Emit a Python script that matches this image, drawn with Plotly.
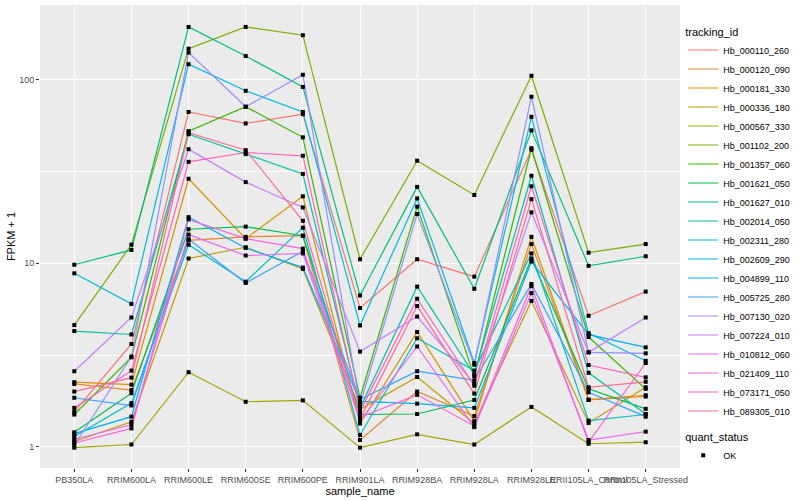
import plotly.graph_objects as go

samples = ["PB350LA", "RRIM600LA", "RRIM600LE", "RRIM600SE", "RRIM600PE", "RRIM901LA",
           "RRIM928BA", "RRIM928LA", "RRIM928LE", "RRII105LA_Control", "RRII105LA_Stressed"]

tracking_ids = ["Hb_000110_260", "Hb_000120_090", "Hb_000181_330", "Hb_000336_180", "Hb_000567_330",
                "Hb_001102_200", "Hb_001357_060", "Hb_001621_050", "Hb_001627_010", "Hb_002014_050",
                "Hb_002311_280", "Hb_002609_290", "Hb_004899_110", "Hb_005725_280", "Hb_007130_020",
                "Hb_007224_010", "Hb_010812_060", "Hb_021409_110", "Hb_073171_050", "Hb_089305_010"]

colors = ["#F8766D", "#EA8331", "#D89000", "#C09B00", "#A3A500", "#7CAE00", "#39B600", "#00BB4E",
          "#00BF7D", "#00C1A3", "#00BFC4", "#00BAE0", "#00B0F6", "#35A2FF", "#9590FF", "#C77CFF",
          "#E76BF3", "#FA62DB", "#FF62BC", "#FF6C91"]

# FPKM + 1 per tracking id, in sample order
fpkm_000110_260 = [1.55, 3.63, 66.5, 57.6, 64.7, 5.7, 10.5, 8.44, 41.4, 5.17, 7.0]
fpkm_000120_090 = [2.2, 2.04, 13.3, 13.9, 14.1, 1.09, 2.0, 1.47, 12.7, 1.8, 1.88]
fpkm_000181_330 = [2.25, 2.18, 28.8, 13.6, 23.1, 1.34, 4.22, 1.38, 13.9, 1.81, 1.91]
fpkm_000336_180 = [1.07, 1.37, 10.6, 12.2, 9.3, 1.6, 2.4, 1.34, 6.23, 1.35, 2.11]
fpkm_000567_330 = [0.99, 1.03, 2.55, 1.76, 1.79, 0.99, 1.17, 1.03, 1.65, 1.04, 1.06]
fpkm_001102_200 = [4.6, 12.6, 147, 193, 174, 10.5, 36.1, 23.5, 104.7, 11.4, 12.7]
fpkm_001357_060 = [1.5, 3.07, 52.3, 71, 48.4, 1.85, 20.3, 2.42, 42.2, 3.96, 2.07]
fpkm_001621_050 = [1.2, 1.96, 15.3, 15.8, 14.1, 1.5, 1.51, 1.8, 10.6, 2.07, 1.61]
fpkm_001627_010 = [9.8, 11.8, 193, 134, 91, 6.67, 26, 7.25, 52.8, 9.67, 10.9]
fpkm_002014_050 = [4.27, 4.09, 50.3, 39.2, 30.6, 1.63, 7.45, 2.47, 29.9, 2.53, 1.51]
fpkm_002311_280 = [1.14, 1.73, 12.6, 7.93, 15.6, 1.16, 3.9, 2.6, 11.3, 1.39, 1.5]
fpkm_002609_290 = [8.8, 6.0, 121, 86.7, 66.5, 4.58, 22.5, 2.86, 62.6, 4.16, 2.94]
fpkm_004899_110 = [1.18, 1.46, 17.8, 12.1, 9.46, 1.77, 1.72, 1.63, 10.2, 4.08, 3.48]
fpkm_005725_280 = [1.85, 1.68, 13.5, 7.8, 11.6, 1.81, 2.58, 2.3, 7.7, 1.98, 1.46]
fpkm_007130_020 = [1.02, 3.1, 140, 71, 106, 1.7, 18.5, 2.8, 80.5, 3.27, 3.23]
fpkm_007224_010 = [2.58, 5.06, 41.7, 27.6, 20.1, 3.3, 5.12, 2.21, 18.9, 3.27, 5.06]
fpkm_010812_060 = [1.1, 1.32, 14.3, 11.0, 11.3, 1.38, 3.52, 1.28, 6.87, 1.09, 1.21]
fpkm_021409_110 = [1.05, 1.26, 17.3, 13.6, 12.0, 1.45, 1.92, 1.3, 7.5, 1.06, 2.86]
fpkm_073171_050 = [1.63, 2.6, 35.6, 40, 38.4, 1.56, 6.4, 2.15, 26.2, 2.79, 2.39]
fpkm_089305_010 = [2.0, 2.38, 51.3, 41.2, 17.0, 1.42, 5.84, 1.95, 22.3, 2.11, 2.26]

series = [fpkm_000110_260, fpkm_000120_090, fpkm_000181_330, fpkm_000336_180, fpkm_000567_330,
          fpkm_001102_200, fpkm_001357_060, fpkm_001621_050, fpkm_001627_010, fpkm_002014_050,
          fpkm_002311_280, fpkm_002609_290, fpkm_004899_110, fpkm_005725_280, fpkm_007130_020,
          fpkm_007224_010, fpkm_010812_060, fpkm_021409_110, fpkm_073171_050, fpkm_089305_010]

quant_status = "OK"

fig = go.Figure()
for name, vals, col in zip(tracking_ids, series, colors):
    fig.add_trace(go.Scatter(x=samples, y=vals, mode="lines", name=name,
                             line=dict(color=col, width=1.2), legend="legend"))

all_x, all_y = [], []
for vals in series:
    all_x += samples
    all_y += vals
fig.add_trace(go.Scatter(x=all_x, y=all_y, mode="markers", name=quant_status,
                         marker=dict(symbol="square", size=4, color="black"),
                         legend="legend2"))

font = "Liberation Sans, Arial, sans-serif"
fig.update_layout(
    width=800, height=500,
    margin=dict(l=40, r=113, t=5, b=32),
    paper_bgcolor="white", plot_bgcolor="#EBEBEB",
    font=dict(family=font, size=9, color="black"),
    legend=dict(title=dict(text="tracking_id", font=dict(size=11)), x=1.005, xanchor="left",
                y=0.965, yanchor="top", font=dict(size=9), bgcolor="rgba(0,0,0,0)",
                tracegroupgap=0, itemwidth=30),
    legend2=dict(title=dict(text="quant_status", font=dict(size=11)), x=1.005, xanchor="left",
                 y=0.09, yanchor="top", font=dict(size=9), bgcolor="rgba(0,0,0,0)"),
    xaxis=dict(type="category", range=[-0.6, 10.6], showgrid=True, gridcolor="white", gridwidth=1.1,
               ticks="outside", ticklen=3, tickcolor="#333333", tickangle=0,
               tickfont=dict(size=9, color="#4D4D4D"), zeroline=False, showline=False,
               title=dict(text="sample_name", font=dict(size=11), standoff=2)),
    yaxis=dict(type="log", range=[-0.115, 2.405], tickvals=[1, 10, 100], ticktext=["1", "10", "100"],
               showgrid=True, gridcolor="white", gridwidth=1.1, ticks="outside", ticklen=3,
               tickcolor="#333333", tickfont=dict(size=9, color="#4D4D4D"), zeroline=False,
               minor=dict(tickvals=[10 ** -0.5, 10 ** 0.5, 10 ** 1.5], showgrid=True,
                          gridcolor="white", gridwidth=0.5, ticks=""),
               title=dict(text="FPKM + 1", font=dict(size=11), standoff=1)),
)

fig.write_html("out.html", config={"displayModeBar": False},
               post_script="document.body.style.margin='0';")
